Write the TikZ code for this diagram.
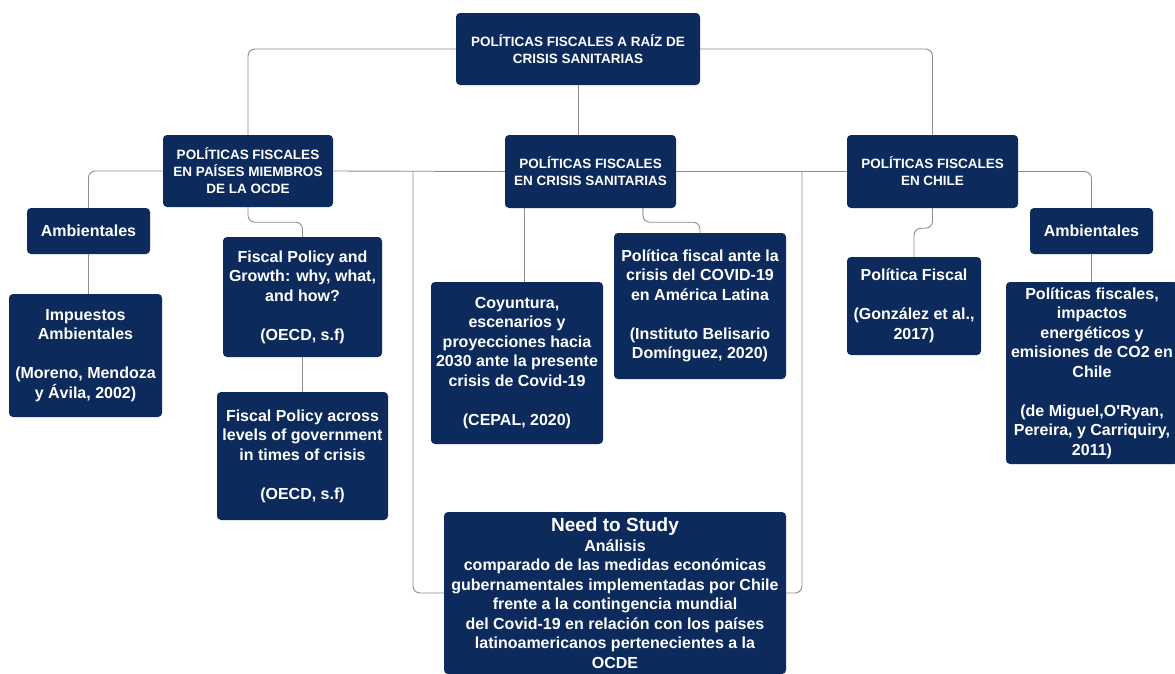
\documentclass[tikz,border=0pt]{standalone}
\usepackage{fontspec}
\setmainfont{Liberation Sans}
\usepackage{xcolor}
\definecolor{navy}{RGB}{12,42,92}
\definecolor{linegray}{RGB}{140,140,140}

\begin{document}
\begin{tikzpicture}[x=1pt,y=-1pt]
\tikzstyle{every node}+=[inner sep=0pt]
\tikzstyle{box}=[fill=navy, text=white, rounded corners=4pt, align=center, font=\bfseries\fontsize{16}{19.5}\selectfont]
\tikzstyle{head}=[box, font=\bfseries\fontsize{13.5}{17}\selectfont]
\tikzstyle{link}=[draw=linegray, line width=0.9pt, rounded corners=7pt]
\useasboundingbox (0,0) rectangle (1175,673);
\clip (0,0) rectangle (1175,673);
\fill[white] (0,0) rectangle (1175,673);
\node[head, minimum width=244, minimum height=72] (root) at (578,49) {POLÍTICAS FISCALES A RAÍZ DE\\CRISIS SANITARIAS};
\node[head, minimum width=170, minimum height=72] (ocde) at (248,171) {POLÍTICAS FISCALES\\EN PAÍSES MIEMBROS\\DE LA OCDE};
\node[head, minimum width=171, minimum height=73] (crisis) at (590.5,171.5) {POLÍTICAS FISCALES\\EN CRISIS SANITARIAS};
\node[head, minimum width=171, minimum height=73] (chile) at (932.5,171.5) {POLÍTICAS FISCALES\\EN CHILE};
\node[box, minimum width=123, minimum height=46] (ambL) at (88.5,231) {Ambientales};
\node[box, minimum width=159, minimum height=120] (fpg) at (302.5,297) {Fiscal Policy and\\Growth: why, what,\\and how?\\[19.5pt](OECD, s.f)};
\node[box, minimum width=153, minimum height=123] (imp) at (85.5,355.5) {Impuestos\\Ambientales\\[19.5pt](Moreno, Mendoza\\y Ávila, 2002)};
\node[box, minimum width=171, minimum height=128] (fpa) at (302.5,456) {Fiscal Policy across\\levels of government\\in times of crisis\\[19.5pt](OECD, s.f)};
\node[box, minimum width=172, minimum height=162] (coy) at (517,363) {Coyuntura,\\escenarios y\\proyecciones hacia\\2030 ante la presente\\crisis de Covid-19\\[19.5pt](CEPAL, 2020)};
\node[box, minimum width=172, minimum height=146] (pfa) at (700,306) {Política fiscal ante la\\crisis del COVID-19\\en América Latina\\[19.5pt](Instituto Belisario\\Domínguez, 2020)};
\node[box, minimum width=134, minimum height=98] (pfc) at (914,306) {Política Fiscal\\[19.5pt](González et al.,\\2017)};
\node[box, minimum width=123, minimum height=46] (ambR) at (1091.5,231) {Ambientales};
\node[box, minimum width=172, minimum height=182] (pfi) at (1092,373) {Políticas fiscales,\\impactos\\energéticos y\\emisiones de CO2 en\\Chile\\[19.5pt](de Miguel,O\textquotesingle Ryan,\\Pereira, y Carriquiry,\\2011)};
\node[box, minimum width=342, minimum height=162] (need) at (615,593) {{\fontsize{19}{22}\selectfont Need to Study}\\Análisis\\comparado de las medidas económicas\\gubernamentales implementadas por Chile\\frente a la contingencia mundial\\del Covid-19 en relación con los países\\latinoamericanos pertenecientes a la\\OCDE};
\coordinate (jl) at (413,171);
\coordinate (jr) at (802,171);
\draw[link] (root.west) -| (ocde.north);
\draw[link] (root.east) -| (chile.north);
\draw[link] (root.south) -- (root.south |- crisis.north);
\draw[link] (ocde.east) -- (crisis.west);
\draw[link] (crisis.east) -- (chile.west);
\draw[link] (ocde.west) -| (ambL.north);
\draw[link] (chile.east) -| (ambR.north);
\draw[link] (ambL.south) -- (ambL.south |- imp.north);
\draw[link] (ocde.south) -- ++(0,15) -| (fpg.north);
\draw[link] (fpg.south) -- (fpa.north);
\draw[link] (crisis.-151) -- (crisis.-151 |- coy.north);
\draw[link] (crisis.-35) -- ++(0,14) -| (pfa.north);
\draw[link] (chile.south) -- ++(0,20) -| (pfc.north);
\draw[link] (ambR.south) -- (ambR.south |- pfi.north);
\draw[link] (jl) |- (need.west);
\draw[link] (jr) |- (need.east);
\end{tikzpicture}
\end{document}
